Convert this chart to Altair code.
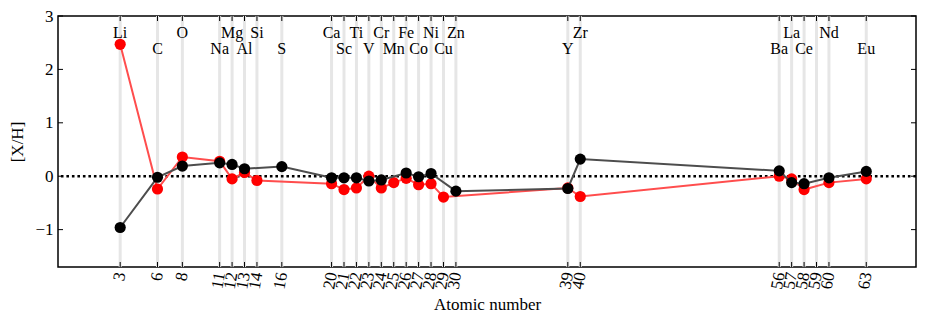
import altair as alt
import pandas as pd

# ---- data ----
tick_z = [3, 6, 8, 11, 12, 13, 14, 16, 20, 21, 22, 23, 24, 25, 26, 27, 28, 29, 30,
          39, 40, 56, 57, 58, 59, 60, 63]

elem_names = ["Li", "C", "O", "Na", "Mg", "Al", "Si", "S", "Ca", "Sc", "Ti", "V", "Cr",
              "Mn", "Fe", "Co", "Ni", "Cu", "Zn", "Y", "Zr", "Ba", "La", "Ce", "Nd", "Eu"]
elem_z = [3, 6, 8, 11, 12, 13, 14, 16, 20, 21, 22, 23, 24,
          25, 26, 27, 28, 29, 30, 39, 40, 56, 57, 58, 60, 63]
label_rows = [2.68, 2.38]  # y of upper / lower label row

red_z = [3, 6, 8, 11, 12, 13, 14, 20, 21, 22, 23, 24, 25, 26, 27, 28, 29, 39, 40,
         56, 57, 58, 60, 63]
red_v = [2.47, -0.24, 0.36, 0.28, -0.05, 0.07, -0.08, -0.14, -0.25, -0.22, 0.0, -0.22,
         -0.12, -0.04, -0.16, -0.14, -0.39, -0.22, -0.38, 0.0, -0.05, -0.25, -0.12, -0.05]

black_z = [3, 6, 8, 11, 12, 13, 16, 20, 21, 22, 23, 24, 26, 27, 28, 30, 39, 40,
           56, 57, 58, 60, 63]
black_v = [-0.96, -0.02, 0.19, 0.25, 0.22, 0.14, 0.18, -0.03, -0.03, -0.03, -0.09, -0.07,
           0.06, -0.01, 0.05, -0.28, -0.23, 0.32, 0.10, -0.12, -0.14, -0.03, 0.09]

y_ticks = [-1, 0, 1, 2, 3]

# ---- tables ----
df_ticks = pd.DataFrame({"z": tick_z})
df_labels = pd.DataFrame({
    "z": elem_z,
    "name": elem_names,
    "y": [label_rows[i % 2] for i in range(len(elem_names))],
})
df_red = pd.DataFrame({"z": red_z, "v": red_v})
df_black = pd.DataFrame({"z": black_z, "v": black_v})
df_zero = pd.DataFrame({"v": [0]})
df_yt = pd.DataFrame({"v": y_ticks})

W, H = 858, 251
FONT = "Liberation Serif"

xscale = alt.Scale(domain=[-2, 67], nice=False, zero=False)
yscale = alt.Scale(domain=[-1.7, 3], nice=False, zero=False)

xaxis = alt.Axis(values=tick_z, labelAngle=280, labelAlign="right", labelBaseline="middle",
                 labelPadding=5, ticks=False, domain=False, grid=False,
                 labelFont=FONT, labelFontSize=17, labelColor="black", labelOverlap=False,
                 title="Atomic number", titleFont=FONT, titleFontSize=17,
                 titleFontWeight="normal", titleColor="black", titlePadding=6)
yaxis = alt.Axis(values=y_ticks, format="d", ticks=False, domain=False, grid=False,
                 labelFont=FONT, labelFontSize=17, labelColor="black", labelPadding=5,
                 title="[X/H]", titleFont=FONT, titleFontSize=17,
                 titleFontWeight="normal", titleColor="black", titlePadding=8)

X = alt.X("z:Q", scale=xscale, axis=xaxis)
Y = alt.Y("v:Q", scale=yscale, axis=yaxis)

guides = alt.Chart(df_ticks).mark_rule(color="#e6e6e6", strokeWidth=3).encode(
    x=X, y=alt.value(0), y2=alt.value(H))

zero = alt.Chart(df_zero).mark_rule(color="black", strokeWidth=2.6, strokeDash=[2.6, 2.9]).encode(
    y=Y)

red_line = alt.Chart(df_red).mark_line(color="#ff4d4d", strokeWidth=2).encode(x=X, y=Y)
red_pts = alt.Chart(df_red).mark_circle(color="#ff0000", opacity=1, size=125).encode(x=X, y=Y)
blk_line = alt.Chart(df_black).mark_line(color="#4d4d4d", strokeWidth=2).encode(x=X, y=Y)
blk_pts = alt.Chart(df_black).mark_circle(color="#000000", opacity=1, size=125).encode(x=X, y=Y)

labels = alt.Chart(df_labels).mark_text(font=FONT, fontSize=16, color="black",
                                        baseline="middle", align="center").encode(
    x=X, y=alt.Y("y:Q", scale=yscale, axis=yaxis), text="name:N")

TL = 5
xt_bottom = alt.Chart(df_ticks).mark_rule(color="black", strokeWidth=1).encode(
    x=X, y=alt.value(H - TL), y2=alt.value(H))
xt_top = alt.Chart(df_ticks).mark_rule(color="black", strokeWidth=1).encode(
    x=X, y=alt.value(0), y2=alt.value(TL))
yt_left = alt.Chart(df_yt).mark_rule(color="black", strokeWidth=1).encode(
    y=Y, x=alt.value(0), x2=alt.value(TL))
yt_right = alt.Chart(df_yt).mark_rule(color="black", strokeWidth=1).encode(
    y=Y, x=alt.value(W - TL), x2=alt.value(W))

chart = alt.layer(
    guides, zero, red_line, red_pts, blk_line, blk_pts, labels,
    xt_bottom, xt_top, yt_left, yt_right
).properties(
    width=W, height=H,
    padding={"left": 50, "top": 8, "right": 2, "bottom": 52},
    autosize=alt.AutoSizeParams(type="none"),
).configure(
    background="white"
).configure_view(
    stroke="black", strokeWidth=1.5
)

chart.save("out.html", embed_options={"renderer": "svg", "actions": False})
